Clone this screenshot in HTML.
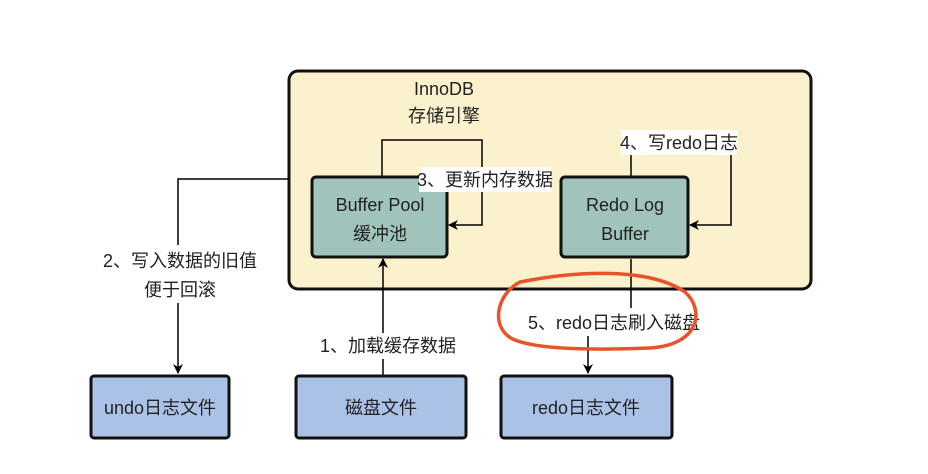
<!DOCTYPE html>
<html><head><meta charset="utf-8"><style>
body{margin:0;background:#fff}
svg text{font-family:"Liberation Sans","Noto Sans CJK SC",sans-serif;font-size:18px;fill:#222}
</style></head><body>
<svg width="928" height="469" viewBox="0 0 928 469" xmlns="http://www.w3.org/2000/svg">
<defs><marker id="a" markerWidth="10" markerHeight="10" refX="9" refY="5" orient="auto" markerUnits="userSpaceOnUse"><path d="M0,0 L10,5 L0,10 L3,5 Z" fill="#000"/></marker></defs>
<rect x="289" y="71" width="522" height="218" rx="9" fill="#fcf1cd" stroke="#111" stroke-width="3"/>
<text x="444" y="95" text-anchor="middle">InnoDB</text>
<text x="444" y="122" text-anchor="middle">存储引擎</text>
<!-- left connector -->
<polyline points="289,179 178,179 178,373" fill="none" stroke="#000" stroke-width="1.5" marker-end="url(#a)"/>
<rect x="100" y="245" width="160" height="58" fill="#fff"/>
<text x="180" y="267" text-anchor="middle">2、写入数据的旧值</text>
<text x="180" y="296" text-anchor="middle">便于回滚</text>
<!-- loop 3 -->
<polyline points="382,177 382,140 482,140 482,225 449,225" fill="none" stroke="#000" stroke-width="1.5" marker-end="url(#a)"/>
<!-- loop 4 -->
<polyline points="631,177 631,146 731,146 731,225 690,225" fill="none" stroke="#000" stroke-width="1.5" marker-end="url(#a)"/>
<rect x="312" y="177" width="135" height="80" rx="4" fill="#a0c4bb" stroke="#111" stroke-width="3"/>
<text x="380" y="211" text-anchor="middle">Buffer Pool</text>
<text x="380" y="240" text-anchor="middle">缓冲池</text>
<rect x="561" y="177" width="127" height="80" rx="4" fill="#a0c4bb" stroke="#111" stroke-width="3"/>
<text x="625" y="211" text-anchor="middle">Redo Log</text>
<text x="625" y="240" text-anchor="middle">Buffer</text>
<rect x="419" y="167" width="132" height="25" fill="#fff"/>
<text x="485" y="186" text-anchor="middle">3、更新内存数据</text>
<rect x="621" y="130" width="116" height="25" fill="#fff"/>
<text x="679" y="149" text-anchor="middle">4、写redo日志</text>
<!-- arrow 1 -->
<line x1="383" y1="375" x2="383" y2="259" stroke="#000" stroke-width="1.5" marker-end="url(#a)"/>
<rect x="318" y="333" width="140" height="26" fill="#fff"/>
<text x="388" y="352" text-anchor="middle">1、加载缓存数据</text>
<!-- arrow 5 -->
<line x1="631" y1="259" x2="631" y2="308" stroke="#000" stroke-width="1.5"/>
<text x="614" y="329" text-anchor="middle">5、redo日志刷入磁盘</text>
<line x1="588" y1="336" x2="588" y2="373" stroke="#000" stroke-width="1.5" marker-end="url(#a)"/>
<path d="M520,282 C580,270 650,268 685,292 C705,310 700,345 650,348 C600,350 540,350 515,340 C490,330 495,295 520,282 Z" fill="none" stroke="#e8532a" stroke-width="3.5"/>
<!-- bottom boxes -->
<rect x="91" y="376" width="138" height="62" rx="3" fill="#abc2e7" stroke="#111" stroke-width="3"/>
<text x="160" y="414" text-anchor="middle">undo日志文件</text>
<rect x="296" y="376" width="170" height="62" rx="3" fill="#abc2e7" stroke="#111" stroke-width="3"/>
<text x="381" y="414" text-anchor="middle">磁盘文件</text>
<rect x="501" y="376" width="171" height="62" rx="3" fill="#abc2e7" stroke="#111" stroke-width="3"/>
<text x="586" y="414" text-anchor="middle">redo日志文件</text>
</svg>
</body></html>
